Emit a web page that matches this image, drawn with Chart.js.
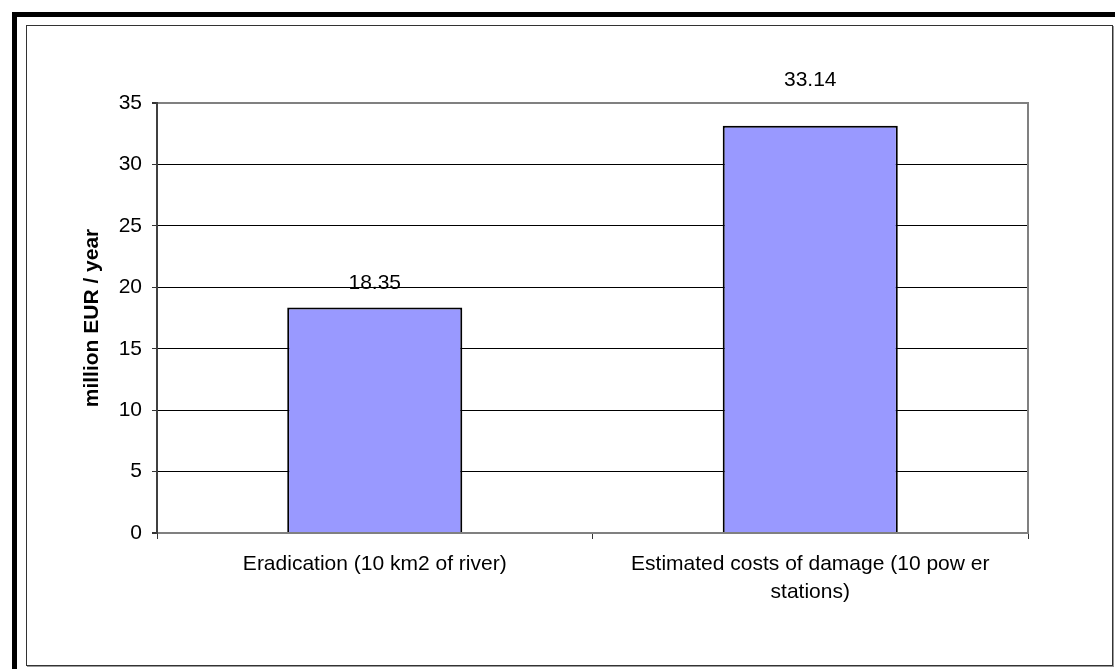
<!DOCTYPE html>
<html>
<head>
<meta charset="utf-8">
<script src="https://cdn.jsdelivr.net/npm/chart.js@4/dist/chart.umd.min.js"></script>
<style>
  html, body { margin: 0; padding: 0; background: #fff; }
  #wrap { position: relative; width: 1115px; height: 669px; overflow: hidden; background: #fff; }
  .bar-top { position: absolute; left: 12px; top: 12px; width: 1103px; height: 5px; background: #000; }
  .bar-left { position: absolute; left: 12px; top: 12px; width: 5px; height: 657px; background: #000; }
  .frame { position: absolute; left: 26px; top: 25px; width: 1085px; height: 639px;
           border: 1px solid #333; box-shadow: 1px 1px 0 #999; }
  canvas { position: absolute; left: 0; top: 0; }
</style>
</head>
<body>
<div id="wrap">
  <div class="bar-top"></div>
  <div class="bar-left"></div>
  <div class="frame"></div>
  <canvas id="c" width="1115" height="669"></canvas>
</div>
<script>
// Cost comparison: eradication vs. estimated damage
const categories = [
  'Eradication (10 km2 of river)',
  ['Estimated costs of damage (10 pow er', 'stations)']
];
const costs = [18.35, 33.14];
const yTicks = [0, 5, 10, 15, 20, 25, 30, 35];
const yTitle = 'million EUR / year';

Chart.defaults.font.family = "'Liberation Sans', Arial, sans-serif";
Chart.defaults.font.size = 21;
Chart.defaults.color = '#000';

// Value labels above each bar
const valueLabels = {
  id: 'valueLabels',
  afterDatasetsDraw(chart, args, opts) {
    const ctx = chart.ctx;
    const meta = chart.getDatasetMeta(0);
    ctx.save();
    ctx.font = "21px 'Liberation Sans', Arial, sans-serif";
    ctx.fillStyle = '#000';
    ctx.textAlign = 'center';
    ctx.textBaseline = 'alphabetic';
    meta.data.forEach((bar, i) => {
      const v = chart.data.datasets[0].data[i];
      ctx.fillText(v.toFixed(2), bar.x, bar.y - opts.offsets[i]);
    });
    ctx.restore();
  }
};

// Plot-area edge on the right side
const plotFrame = {
  id: 'plotFrame',
  beforeDatasetsDraw(chart) {
    const {ctx, chartArea: a} = chart;
    ctx.save();
    ctx.strokeStyle = '#808080';
    ctx.lineWidth = 2;
    ctx.beginPath();
    ctx.moveTo(a.right, a.top - 1);
    ctx.lineTo(a.right, a.bottom);
    ctx.stroke();
    ctx.restore();
  }
};

new Chart(document.getElementById('c'), {
  type: 'bar',
  data: {
    labels: categories,
    datasets: [{
      data: costs,
      backgroundColor: '#9999FF',
      borderColor: '#000',
      borderWidth: 2,
      borderSkipped: 'start',
      categoryPercentage: 1,
      barPercentage: 0.402
    }]
  },
  options: {
    responsive: false,
    animation: false,
    events: [],
    layout: { padding: { left: 0, top: 103, right: 87, bottom: 0 } },
    plugins: {
      legend: { display: false },
      tooltip: { enabled: false },
      valueLabels: { offsets: [19, 40] }
    },
    scales: {
      x: {
        afterFit(s) { s.height = 136; },
        grid: {
          display: true,
          drawOnChartArea: false,
          offset: true,
          tickLength: 6,
          tickColor: '#333',
          lineWidth: 1
        },
        border: { display: true, color: '#808080', width: 2 },
        ticks: {
          padding: 11,
          maxRotation: 0,
          autoSkip: false,
          font: { size: 21, lineHeight: 1.33 }
        }
      },
      y: {
        min: 0,
        max: 35,
        afterFit(s) { s.width = 157; },
        afterBuildTicks(s) { s.ticks = yTicks.map(v => ({ value: v })); },
        grid: {
          color: ctx => (ctx.tick && (ctx.tick.value === 35 || ctx.tick.value === 0)) ? '#808080' : '#000',
          lineWidth: ctx => (ctx.tick && (ctx.tick.value === 35 || ctx.tick.value === 0)) ? 2 : 1,
          tickLength: 5,
          tickColor: '#333'
        },
        border: { display: true, color: '#404040', width: 2 },
        ticks: { padding: 10, font: { size: 21 } },
        title: {
          display: true,
          text: yTitle,
          font: { size: 21, weight: 'bold' },
          padding: { top: 80, bottom: 0 }
        }
      }
    }
  },
  plugins: [valueLabels, plotFrame]
});
</script>
</body>
</html>
